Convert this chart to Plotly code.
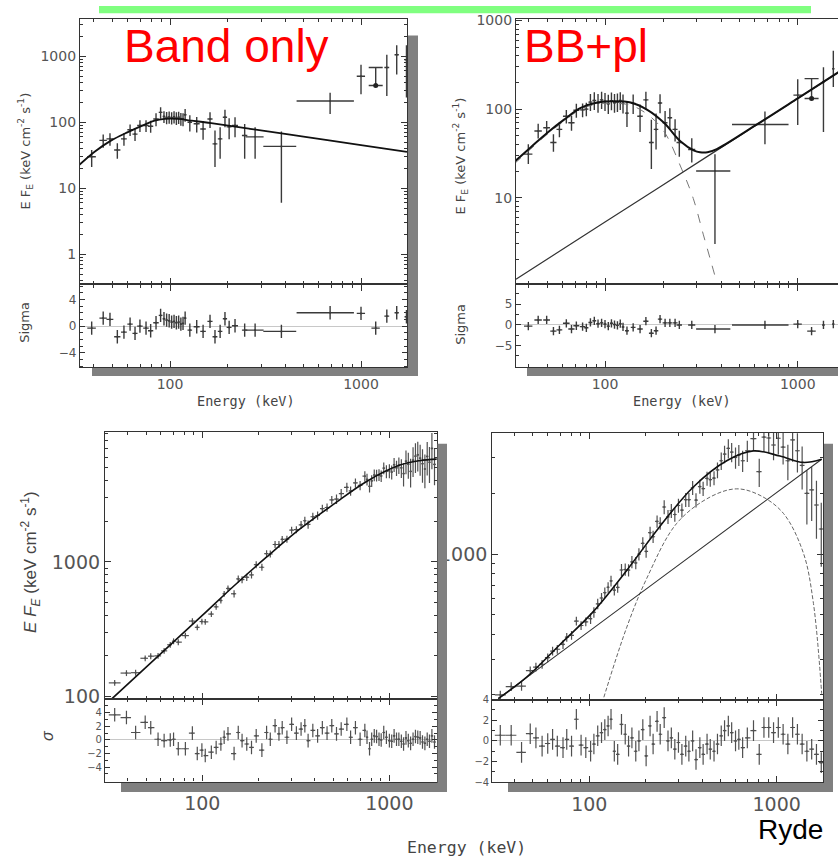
import numpy as np
import plotly.graph_objects as go

W, H = 838, 867

# ---------------- Panel 1 (top-left): Band only ----------------
E1 = [38.9, 44.7, 48.5, 53, 57.4, 61.8, 65.6, 69.6, 74.9, 79.2, 84.5, 89.3, 93, 96, 99, 102, 105, 108, 111, 114,
      117, 120, 127, 138, 149, 162, 172, 183, 194, 204, 219, 246, 279, 383, 689, 1000, 1365, 1538, 1730]
F1 = [30, 53, 56, 38, 56, 77, 66, 89, 89, 87, 112, 141, 122, 118, 120, 117, 121, 116, 119, 113,
      112, 130, 100, 95, 79, 112, 47, 56, 119, 85, 89, 63, 60, 43, 210, 497, 676, 1050, 880]
F1_up = [8, 12, 12, 10, 12, 15, 14, 18, 18, 18, 25, 28, 25, 25, 25, 25, 25, 25, 25, 25,
         25, 28, 28, 25, 25, 30, 28, 28, 35, 30, 30, 31, 24, 29, 70, 244, 374, 420, 590]
F1_dn = [9, 12, 12, 10, 12, 15, 14, 18, 18, 18, 25, 28, 25, 25, 25, 25, 25, 25, 25, 25,
         25, 28, 28, 25, 25, 30, 26, 28, 35, 30, 30, 35, 32, 37, 77, 232, 427, 523, 644]
E1_err = [2, 2, 2, 2, 2, 2, 2, 2.3, 2.5, 2.5, 2.8, 2, 1.5, 1.5, 1.5, 1.5, 1.5, 1.5, 1.5, 1.5,
          1.5, 2, 3.5, 5, 5, 5, 5, 5, 5, 6, 8, 8, 30, 75, 229, 50, 40, 40, 40]
S1 = [-0.3, 1.2, 1.0, -1.6, -0.9, 0.3, -1.1, 0.0, -0.3, -0.7, 0.5, 1.6, 1.1, 0.9, 0.8, 0.6, 0.7, 0.5, 0.6, 0.3,
      0.4, 1.2, -0.6, -0.1, -0.8, 0.7, -1.6, -0.8, 1.1, -0.2, 0.05, -0.6, -0.6, -0.8, 2.0, 1.9, 1.5, 2.0, 1.4]
# point drawn with a cap (upper bar only) and a dot
E1_cap, F1_cap, F1_cap_up, S1_cap = [1194], [360], [316], [-0.3]
# Band model
B1_E = [33.5, 40.3, 49.3, 60.2, 73.7, 83.1, 93.8, 110, 130, 164.5, 262, 500, 1000, 1740]
B1_F = [22.5, 35.7, 53.1, 70.9, 92, 105.7, 112, 112, 105.4, 96.6, 79.4, 60.4, 45, 35.6]

# ---------------- Panel 2 (top-right): BB + power law ----------------
E2 = [40, 45, 49.8, 54, 58, 63, 67, 71, 76.5, 80, 84, 88, 92, 96, 100, 104, 108, 112, 116, 120,
      124, 130, 140, 152, 163, 174, 184, 193, 205, 217, 231, 243, 282, 372, 676, 1000, 1360, 1530]
F2 = [31, 56.5, 61.5, 42, 59, 83, 70, 97, 98, 100, 120, 125, 118, 127, 122, 115, 124, 118, 120, 125,
      116, 90, 116, 83, 127, 42, 59, 117, 70, 80, 59, 42, 35, 20, 67, 144, 203, 286]
F2_up = [9, 12, 12, 10, 12, 15, 14, 18, 18, 18, 28, 30, 30, 30, 30, 30, 30, 30, 30, 30,
         30, 30, 30, 30, 30, 34, 30, 30, 25, 22, 18, 15, 12, 11, 27, 73, 94, 170]
F2_dn = [7, 10, 10, 9, 11, 14, 13, 17, 17, 17, 25, 27, 27, 27, 27, 27, 27, 27, 27, 27,
         27, 27, 28, 28, 28, 21, 24, 27, 22, 20, 16, 13, 10, 17, 27, 78, 148, 108]
E2_err = [2, 2, 2, 2, 2, 2.5, 2.5, 2.5, 2.5, 2, 2, 2, 2, 2, 2, 2, 2, 2, 2, 2,
          2, 3, 4, 5, 5, 5, 5, 5, 6, 6, 7, 8, 12, 75, 220, 50, 20, 20]
S2 = [-0.3, 1.2, 1.2, -1.5, -1.2, 0.4, -1.0, -0.2, -0.4, -0.7, 0.6, 1.0, 0.3, 0.5, 0.2, -0.3, 0.4, 0.1, -0.1, 0.3,
      -0.5, -1.4, -0.6, -1.0, 0.9, -2.0, -1.4, 1.4, 0.5, 0.5, 0.5, 0.0, 0.0, -1.0, 0.0, 0.2, 0.0, 0.2]
E2_cap, F2_cap, F2_cap_up, S2_cap = [1180], [132], [89], [-1.5]
T2_E = [33.7, 41.1, 50.2, 61.3, 74.8, 91.2, 111.4, 135.9, 165.8, 202.3, 247, 290, 311, 340, 380, 600, 1000, 1650]
T2_F = [25.1, 36.9, 54.1, 76, 103, 118.6, 122.5, 118.6, 98, 70, 43, 33.9, 32.5, 32.5, 35.3, 65, 132, 266]
BB2_E = [33.7, 41.1, 50.2, 61.3, 74.8, 91.2, 111.4, 135.9, 165.8, 202.3, 250, 287, 324, 357, 385]
BB2_F = [23.9, 35.4, 52.1, 73.3, 99.5, 114, 116.4, 110.6, 87.4, 56, 21, 9.8, 3.8, 1.8, 1.0]
PL2_E = [34.5, 100, 380, 1000, 1650]
PL2_F = [1.2, 5.3, 34.2, 132, 266]

# ---------------- Panel 3 (bottom-left): Band fit ----------------
E3 = [34, 39.3, 44, 49.5, 53, 58, 62.5, 67.4, 70.2, 74.4, 81.2, 88.5, 94, 99.5, 103.7, 111.8, 118.6, 125.7,
      130.9, 137.2, 147.9, 155.7, 163.2, 172.9, 183.3, 194.2, 208.3, 220.7, 231, 245, 257, 267.5, 283.5,
      300.4, 318.5, 337.5, 353.5, 368, 390, 413.6, 438.5, 464.6, 492.5, 522, 553, 593, 621, 659, 698, 740,
      760, 784, 805, 831, 855, 881, 905, 934, 965, 1001, 1030, 1061, 1093, 1125, 1160, 1192, 1228, 1264,
      1300, 1340, 1380, 1420, 1462, 1505, 1550, 1595, 1640, 1690, 1745]
F3 = [126, 149, 150, 192, 199, 200, 218, 242, 257, 253, 283, 363, 326, 360, 358, 409, 463, 516,
      579, 634, 579, 747, 738, 768, 800, 953, 912, 1151, 1144, 1346, 1346, 1470, 1474,
      1723, 1736, 1883, 2020, 1896, 2164, 2211, 2483, 2536, 2887, 2930, 3220, 3580, 3365, 3860, 3700, 4330,
      4100, 3640, 4000, 4420, 4400, 4430, 4350, 4970, 4700, 4750, 4650, 5280, 5000, 5240, 5000, 4530, 5600, 5310,
      4700, 5700, 6100, 6250, 5900, 5370, 4900, 6080, 5500, 6970, 5300]
R3 = [.05, .05, .05, .05, .05, .05, .05, .05, .05, .05, .05, .05, .05, .05, .05, .05, .05, .05,
      .05, .05, .06, .06, .06, .06, .06, .06, .06, .06, .06, .06, .06, .06, .06,
      .06, .06, .07, .07, .07, .07, .07, .07, .07, .07, .08, .08, .08, .08, .08, .08, .09,
      .1, .1, .1, .1, .1, .1, .1, .1, .11, .12, .12, .12, .13, .14, .16, .2, .2, .22,
      .24, .25, .25, .25, .26, .28, .28, .28, .3, .3, .3]
S3 = [3.7, 3.3, 1.1, 2.6, 1.8, 0.1, -0.1, 0.0, 0.1, -1.3, -1.3, 1.0, -2.0, -1.5, -2.3, -1.8, -1.1, -0.6,
      0.4, 0.9, -2.0, 1.1, -0.1, -0.6, -1.1, 0.6, -1.5, 1.1, 0.1, 2.1, 0.9, 1.8, 0.4,
      2.3, 1.0, 1.6, 2.1, -0.1, 1.4, 0.6, 1.8, 1.0, 2.1, 0.9, 1.6, 2.3, 0.4, 1.8, 0.1, 1.4,
      0.4, -1.3, 0.1, 0.6, 0.5, 0.1, 0.0, 1.1, 0.4, -0.1, -0.2, 0.6, 0.1, 0.1, -0.2, -0.6, 0.3, -0.1,
      -0.5, 0.1, 0.5, 0.4, 0.3, -0.3, -0.5, 0.1, -0.2, 0.6, -0.3]
B3_E = [32.8, 60, 100, 146.5, 221, 333, 502, 756, 1140, 1450, 1800]
B3_F = [95.7, 208, 400, 656, 1088, 1755, 2670, 3960, 5240, 5650, 5800]

# ---------------- Panel 4 (bottom-right): BB + power law ----------------
E4 = [33.5, 38.3, 43.5, 48.4, 51.9, 56, 60, 63.7, 67.5, 72.4, 75.8, 80.4, 85.3, 90.4, 95.8, 101.6, 105.8,
      110.9, 116.2, 121, 126, 130.6, 136, 141.7, 148.5, 155.5, 162, 168.8, 177, 184, 193, 201, 211, 219,
      230, 239, 251, 263, 274, 286, 299, 312, 327, 340, 356, 371, 389, 405, 425, 442, 463, 483, 506, 527,
      552, 575, 603, 628, 658, 697, 752, 807, 855, 907, 962, 1020, 1082, 1147, 1216, 1290, 1367, 1449,
      1537, 1630, 1729]
F4 = [200, 220, 221, 264, 275, 284, 306, 330, 337, 356, 387, 395, 465, 442, 461, 478, 514,
      566, 605, 643, 684, 735, 662, 683, 833, 838, 832, 914, 903, 998, 1130, 1030, 1275, 1218,
      1450, 1420, 1710, 1529, 1640, 1570, 1740, 1650, 1860, 1860, 2130, 1850, 2160, 2110, 2370, 2340, 2380,
      2610, 2900, 3130, 3340, 3200, 3010, 3100, 2900, 3250, 3730, 2560, 3800, 3760, 3470, 3750, 3390, 2900,
      3680, 3250, 2750, 2000, 2080, 1750, 1330]
R4 = [.05, .05, .05, .05, .05, .05, .05, .05, .05, .05, .05, .05, .05, .05, .05, .06, .06,
      .06, .06, .06, .06, .06, .06, .06, .07, .07, .07, .07, .07, .07, .07, .07, .07, .07,
      .07, .07, .08, .08, .08, .08, .08, .08, .08, .08, .08, .08, .08, .08, .08, .08, .08,
      .09, .1, .1, .11, .11, .12, .12, .12, .12, .13, .16, .16, .16, .16, .17, .18, .2,
      .22, .22, .24, .3, .3, .32, .35]
S4 = [0.55, 0.55, -1.1, 0.7, 0.3, -0.5, -0.25, 0.15, -0.5, -0.65, 0.15, -0.5, 2.1, -0.4, -0.65, -1.0, -0.3,
      0.5, 0.8, 1.1, 1.45, 2.1, -1.0, -1.3, 1.6, 0.65, -0.5, 0.3, -1.0, 0.0, 1.1, -1.45, 1.45, -0.3,
      1.9, 0.65, 2.25, 0.0, 0.3, -0.8, -0.15, -1.3, -0.5, -1.0, 0.0, -1.8, -0.65, -1.3, -0.3, -0.8, -1.0,
      -0.3, 0.5, 1.0, 1.45, 0.8, 0.0, 0.15, -0.65, 0.3, 1.0, -1.3, 1.3, 1.3, 0.8, 1.3, 0.65, -0.3,
      1.3, 0.65, -0.3, -1.0, -0.8, -1.3, -2.1]
T4_E = [32.7, 46.3, 69.8, 105, 158, 238, 359, 541, 750, 1040, 1386, 1738]
T4_F = [192, 245, 356, 518, 827, 1370, 2150, 2900, 3245, 3060, 2845, 2950]
PL4_E = [32.7, 238, 1738]
PL4_F = [192, 753, 2950]
BB4_E = [110, 119, 158, 202, 293, 442, 612, 815, 1086, 1386, 1567, 1738]
BB4_F = [150, 192, 430, 753, 1420, 1918, 2104, 1953, 1590, 1015, 578, 203]

# ---------------- helpers ----------------
def bins(E):
    E = np.asarray(E, float)
    mid = np.sqrt(E[:-1] * E[1:])
    lo = np.r_[E[0] * np.sqrt(E[0] / E[1]), mid]
    hi = np.r_[mid, E[-1] * np.sqrt(E[-1] / E[-2])]
    return (hi - E).tolist(), (E - lo).tolist()


def pts(E, Y, up, dn, exp, exm, xa, ya, color, lw=1.4):
    return go.Scatter(x=E, y=Y, mode='markers', marker=dict(size=2, color=color),
                      error_y=dict(type='data', array=up, arrayminus=dn, symmetric=False,
                                   color=color, thickness=lw, width=0),
                      error_x=dict(type='data', array=exp, arrayminus=exm, symmetric=False,
                                   color=color, thickness=lw, width=0),
                      xaxis=xa, yaxis=ya, hoverinfo='skip', showlegend=False)


def curve(E, Y, xa, ya, color='#111', width=1.8, dash='solid'):
    return go.Scatter(x=E, y=Y, mode='lines', line=dict(color=color, width=width, dash=dash, shape='spline'),
                      xaxis=xa, yaxis=ya, hoverinfo='skip', showlegend=False)


fig = go.Figure()
DC = '#3a3a3a'
DC2 = '#505050'

# panel 1
fig.add_trace(pts(E1, F1, F1_up, F1_dn, E1_err, E1_err, 'x', 'y', DC))
fig.add_trace(go.Scatter(x=E1_cap, y=F1_cap, mode='markers', marker=dict(size=5, color='#222'),
                         error_y=dict(type='data', array=F1_cap_up, arrayminus=[0], symmetric=False,
                                      color=DC, thickness=1.4, width=7),
                         xaxis='x', yaxis='y', hoverinfo='skip', showlegend=False))
fig.add_trace(curve(B1_E, B1_F, 'x', 'y'))
fig.add_trace(pts(E1, S1, [1] * len(E1), [1] * len(E1), E1_err, E1_err, 'x2', 'y2', DC))
fig.add_trace(pts(E1_cap, S1_cap, [1], [1], [60], [60], 'x2', 'y2', DC))

# panel 2
fig.add_trace(pts(E2, F2, F2_up, F2_dn, E2_err, E2_err, 'x3', 'y3', DC))
fig.add_trace(go.Scatter(x=E2_cap, y=F2_cap, mode='markers', marker=dict(size=5, color='#222'),
                         error_y=dict(type='data', array=F2_cap_up, arrayminus=[0], symmetric=False,
                                      color=DC, thickness=1.4, width=7),
                         xaxis='x3', yaxis='y3', hoverinfo='skip', showlegend=False))
fig.add_trace(curve(BB2_E, BB2_F, 'x3', 'y3', color='#777', width=1.0, dash='dash'))
fig.add_trace(curve(PL2_E, PL2_F, 'x3', 'y3', color='#333', width=1.2))
fig.add_trace(curve(T2_E, T2_F, 'x3', 'y3', color='#111', width=2.0))
fig.add_trace(pts(E2, S2, [1] * len(E2), [1] * len(E2), E2_err, E2_err, 'x4', 'y4', DC))
fig.add_trace(pts(E2_cap, S2_cap, [1], [1], [60], [60], 'x4', 'y4', DC))

# panel 3
p3, m3 = bins(E3)
F3_err = [f * r for f, r in zip(F3, R3)]
fig.add_trace(pts(E3, F3, F3_err, F3_err, p3, m3, 'x5', 'y5', DC2, 1.2))
fig.add_trace(curve(B3_E, B3_F, 'x5', 'y5', color='#111', width=1.6))
fig.add_trace(pts(E3, S3, [1] * len(E3), [1] * len(E3), p3, m3, 'x6', 'y6', DC2, 1.2))

# panel 4
p4, m4 = bins(E4)
F4_err = [f * r for f, r in zip(F4, R4)]
fig.add_trace(pts(E4, F4, F4_err, F4_err, p4, m4, 'x7', 'y7', DC2, 1.2))
fig.add_trace(curve(BB4_E, BB4_F, 'x7', 'y7', color='#666', width=1.0, dash='4px,2px'))
fig.add_trace(curve(PL4_E, PL4_F, 'x7', 'y7', color='#333', width=1.1))
fig.add_trace(curve(T4_E, T4_F, 'x7', 'y7', color='#111', width=1.6))
fig.add_trace(pts(E4, S4, [1] * len(E4), [1] * len(E4), p4, m4, 'x8', 'y8', DC2, 1.2))


# ---------------- axes ----------------
def dx(a, b):
    return [a / W, min(b / W, 1.0)]


def dy(top, bottom):
    return [1 - bottom / H, 1 - top / H]


AX = '#333'


def logx(dom, rng, anchor, labels, font, standoff=3, mirror=True):
    return dict(type='log', domain=dom, range=rng, anchor=anchor, showline=True, linecolor=AX, linewidth=1.2,
                mirror='allticks' if mirror else False, ticks='inside', ticklen=6, tickwidth=1, tickcolor=AX,
                dtick=1, exponentformat='none', showticklabels=labels, tickfont=font, showgrid=False,
                zeroline=False, ticklabelstandoff=standoff,
                minor=dict(ticks='inside', ticklen=3, tickcolor=AX, showgrid=False))


def logy(dom, rng, anchor, font, mirror=True):
    return dict(type='log', domain=dom, range=rng, anchor=anchor, showline=True, linecolor=AX, linewidth=1.2,
                mirror='allticks' if mirror else False, ticks='inside', ticklen=6, tickwidth=1, tickcolor=AX,
                dtick=1, exponentformat='none', tickfont=font, showgrid=False, zeroline=False,
                minor=dict(ticks='inside', ticklen=3, tickcolor=AX, showgrid=False))


def liny(dom, rng, anchor, tv, font, mdt, mirror=True):
    return dict(domain=dom, range=rng, anchor=anchor, showline=True, linecolor=AX, linewidth=1.2,
                mirror='allticks' if mirror else False, ticks='inside', ticklen=5, tickcolor=AX,
                tickvals=tv, tickfont=font, showgrid=False, zeroline=True, zerolinecolor='#c8c8c8',
                zerolinewidth=1, minor=dict(ticks='inside', ticklen=3, dtick=mdt, tickcolor=AX, showgrid=False))


fT = dict(family='DejaVu Sans', size=14, color='#555')
fTr = dict(family='DejaVu Sans', size=12, color='#555')
fB = dict(family='DejaVu Sans', size=19, color='#555')
fBr = dict(family='DejaVu Sans', size=10, color='#555')

layout = dict(
    xaxis=logx(dx(80, 407), [1.5288, 3.2408], 'y', False, fT),
    yaxis=logy(dy(13, 283), [-0.458, 3.567], 'x', fT),
    xaxis2=logx(dx(80, 407), [1.5288, 3.2408], 'y2', True, fT, 4),
    yaxis2=liny(dy(283, 367), [-6.15, 6.25], 'x2', [-4, 0, 4], fTr, 1),
    xaxis3=logx(dx(516, 838), [1.5381, 3.209], 'y3', False, fT),
    yaxis3=logy(dy(13, 283), [0.02, 3.02], 'x3', fT, mirror=False),
    xaxis4=logx(dx(516, 838), [1.5381, 3.209], 'y4', True, fT, 4),
    yaxis4=liny(dy(283, 367), [-10.2, 9.8], 'x4', [-5, 0, 5], fTr, 2.5, mirror=False),
    xaxis5=logx(dx(105, 436.7), [1.4797, 3.2535], 'y5', False, fB),
    yaxis5=logy(dy(433.3, 704.3), [1.981, 3.963], 'x5', fB),
    xaxis6=logx(dx(105, 436.7), [1.4797, 3.2535], 'y6', True, fB, 5),
    yaxis6=liny(dy(704.3, 788.3), [-6.13, 6.04], 'x6', [-4, -2, 0, 2, 4], fBr, 1),
    xaxis7=logx(dx(492.3, 823.3), [1.4824, 3.2487], 'y7', False, fB),
    yaxis7=logy(dy(434, 705), [2.278, 3.6], 'x7', fB),
    xaxis8=logx(dx(492.3, 823.3), [1.4824, 3.2487], 'y8', True, fB, 5),
    yaxis8=liny(dy(705, 789), [-4, 4], 'x8', [-4, -2, 0, 2, 4], fBr, 1),
)


# ---------------- shapes ----------------
def rect(x0, x1, y0, y1, color, layer='below'):
    return dict(type='rect', xref='paper', yref='paper', x0=x0 / W, x1=x1 / W, y0=1 - y1 / H, y1=1 - y0 / H,
                fillcolor=color, line=dict(width=0), layer=layer)


SH = '#808080'
shapes = [
    rect(99, 811, 0, 7.3, '#80ff80'),
    rect(407.5, 418, 30, 376, SH), rect(92, 418, 367, 376, SH),
    rect(527, 838, 367, 376, SH),
    rect(437.5, 447, 445, 799, SH, 'above'), rect(121, 447, 788.8, 799, SH),
    rect(824, 833, 445, 799, SH), rect(508, 833, 789.5, 799, SH),
]


# ---------------- annotations ----------------
def ann(text, x, y, size, color='#444', family='DejaVu Sans', xanchor='center', angle=0):
    return dict(text=text, x=x / W, y=1 - y / H, xref='paper', yref='paper', showarrow=False,
                xanchor=xanchor, yanchor='middle', textangle=angle, borderpad=0,
                font=dict(family=family, size=size, color=color))


yt = 'E F<sub>E</sub> (keV cm<sup>-2</sup> s<sup>-1</sup>)'
annotations = [
    ann('Band only', 123, 40.7, 46, '#ff0000', 'Liberation Sans', 'left'),
    ann('BB+pl', 523, 40.7, 46, '#ff0000', 'Liberation Sans', 'left'),
    ann('Ryde', 757, 837, 28, '#000', 'Liberation Sans', 'left'),
    ann('Energy (keV)', 245.8, 401.7, 13.5, family='DejaVu Sans Mono'),
    ann('Energy (keV)', 681.7, 401, 13.5, family='DejaVu Sans Mono'),
    ann('Energy (keV)', 466, 855, 16.5, family='DejaVu Sans Mono'),
    ann(yt, 25, 148, 13, angle=-90),
    ann('Sigma', 25, 322, 13, angle=-90),
    ann(yt, 460, 152, 13, angle=-90),
    ann('Sigma', 461, 324, 13, angle=-90),
    ann('<i>E F<sub>E</sub></i> (keV cm<sup>-2</sup> s<sup>-1</sup>)', 31, 565, 17, angle=-90,
        family='Liberation Sans'),
    ann('<i>σ</i>', 47, 742, 16, family='Liberation Sans', angle=-90),
]

fig.update_layout(width=W, height=H, margin=dict(l=0, r=0, t=0, b=0), paper_bgcolor='white',
                  plot_bgcolor='white', showlegend=False, shapes=shapes, annotations=annotations, **layout)

fig.write_html('out.html')
